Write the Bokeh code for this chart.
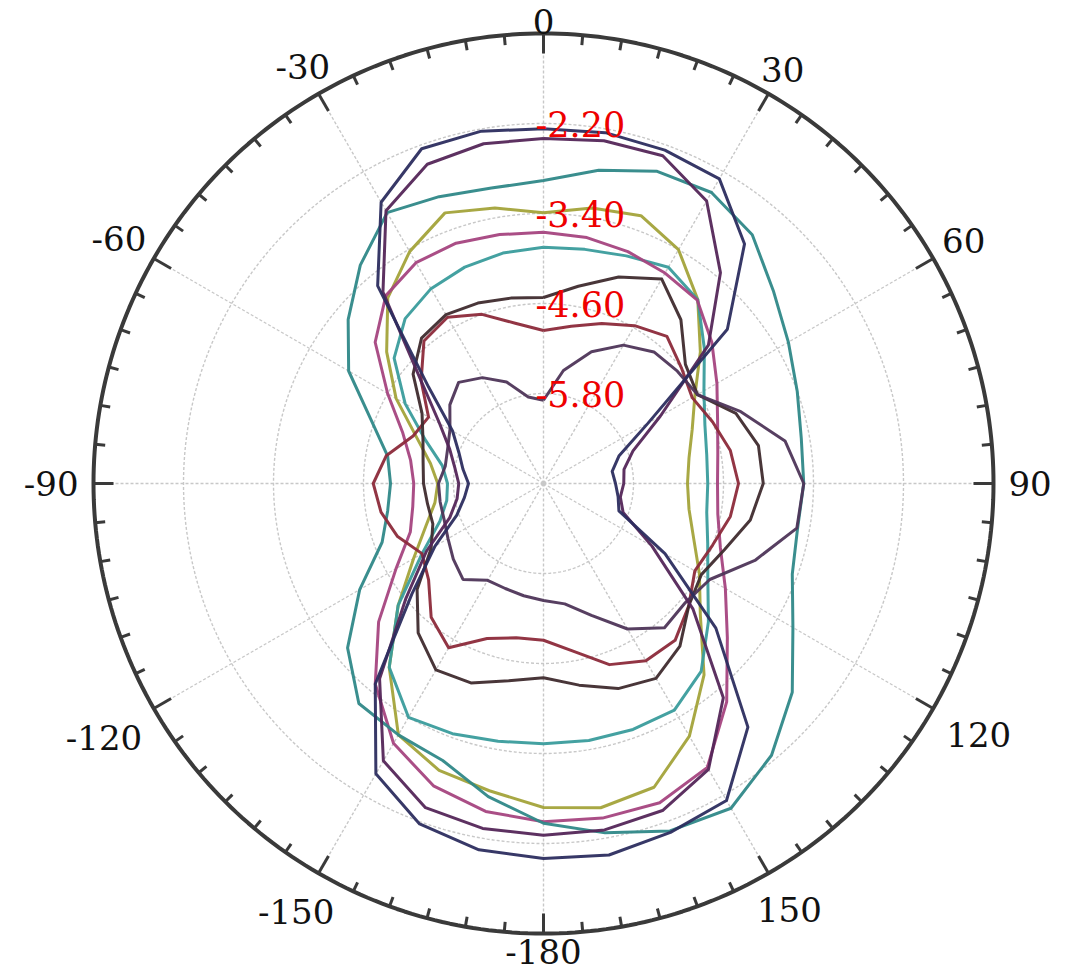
import numpy as np
from bokeh.plotting import figure
from bokeh.models import Range1d
from bokeh.core.properties import value
from bokeh.embed import file_html
from bokeh.resources import INLINE

# ---------------- data ----------------
angles_deg = [0, 10, 20, 30, 40, 50, 60, 70, 80, 90, 100, 110,
              120, 130, 140, 150, 160, 170, 180, 190, 200, 210, 220, 230,
              240, 250, 260, 270, 280, 290, 300, 310, 320, 330, 340, 350]

r_min, r_max = -7.0, -1.0
ring_values = [-5.8, -4.6, -3.4, -2.2]
ring_labels = ["-5.80", "-4.60", "-3.40", "-2.20"]

angle_ticks = [0, 30, 60, 90, 120, 150, 180, 210, 240, 270, 300, 330]
angle_tick_labels = ["0", "30", "60", "90", "120", "150", "-180",
                     "-150", "-120", "-90", "-60", "-30"]

navy = [-2.27, -2.25, -2.27, -2.31, -2.83, -3.80, -5.39, -5.93, -6.07, -6.04, -5.99, -5.93,
        -5.13, -4.00, -2.76, -2.12, -2.05, -1.97, -2.00, -2.04, -2.17, -2.53, -3.51, -4.71,
        -5.33, -5.77, -5.93, -6.00, -5.91, -5.80, -5.60, -5.00, -3.56, -2.67, -2.25, -2.23]
plum = [-2.40, -2.36, -2.35, -2.65, -3.33, -4.13, -5.20, -5.73, -5.91, -5.93, -5.96, -5.87,
        -5.33, -4.40, -3.27, -2.60, -2.36, -2.31, -2.31, -2.33, -2.40, -2.73, -3.60, -4.60,
        -5.20, -5.67, -5.83, -5.87, -5.80, -5.67, -5.40, -4.87, -3.67, -2.80, -2.47, -2.40]
teal_outer = [-2.96, -2.76, -2.57, -2.52, -2.67, -3.00, -3.23, -3.40, -3.51, -3.53, -3.56, -3.47,
              -3.16, -2.67, -2.27, -2.00, -2.07, -2.27, -2.47, -2.76, -3.07, -3.13, -3.17, -3.59,
              -4.17, -4.71, -4.89, -4.96, -4.89, -4.56, -4.00, -3.60, -3.20, -2.83, -2.93, -3.00]
olive = [-3.39, -3.27, -3.20, -3.40, -3.80, -4.27, -4.67, -4.89, -5.03, -5.08, -5.03, -4.87,
         -4.60, -4.27, -3.67, -3.11, -2.69, -2.61, -2.68, -2.84, -2.93, -3.13, -3.80, -4.47,
         -5.00, -5.33, -5.53, -5.59, -5.47, -5.20, -4.73, -4.27, -3.77, -3.43, -3.16, -3.27]
magenta = [-3.65, -3.67, -3.71, -3.76, -3.81, -4.07, -4.33, -4.53, -4.64, -4.68, -4.64, -4.49,
           -4.20, -3.80, -3.20, -2.63, -2.47, -2.47, -2.49, -2.56, -2.71, -3.00, -3.51, -4.13,
           -4.73, -5.11, -5.23, -5.27, -5.20, -5.00, -4.60, -4.07, -3.73, -3.60, -3.59, -3.63]
teal_inner = [-3.85, -3.83, -3.77, -3.67, -3.80, -4.20, -4.53, -4.71, -4.79, -4.81, -4.79, -4.67,
              -4.47, -4.13, -3.73, -3.51, -3.51, -3.52, -3.53, -3.51, -3.45, -3.40, -3.80, -4.47,
              -5.13, -5.53, -5.69, -5.72, -5.63, -5.33, -4.87, -4.40, -4.13, -4.00, -3.93, -3.88]
dark_plum = [-5.89, -5.47, -5.13, -4.87, -4.71, -4.67, -4.63, -4.20, -3.73, -3.53, -3.57, -4.00,
             -4.44, -4.53, -4.49, -4.76, -5.13, -5.37, -5.44, -5.48, -5.51, -5.51, -5.33, -5.43,
             -5.53, -5.59, -5.60, -5.60, -5.67, -5.64, -5.56, -5.37, -5.24, -5.37, -5.56, -5.83]
brown = [-4.52, -4.33, -4.07, -3.85, -4.15, -4.53, -4.63, -4.27, -4.09, -4.07, -4.20, -4.43,
         -4.57, -4.47, -4.17, -4.00, -4.09, -4.27, -4.41, -4.33, -4.17, -4.13, -4.40, -4.80,
         -5.27, -5.43, -5.43, -5.40, -5.37, -5.29, -5.13, -4.73, -4.47, -4.40, -4.44, -4.49]
dark_red = [-4.96, -4.87, -4.73, -4.57, -4.44, -4.60, -4.71, -4.60, -4.47, -4.40, -4.47, -4.60,
            -4.67, -4.47, -4.27, -4.27, -4.43, -4.73, -4.91, -4.91, -4.80, -4.47, -4.67, -5.00,
            -5.13, -4.93, -4.80, -4.73, -4.87, -5.15, -5.23, -4.87, -4.52, -4.44, -4.60, -4.83]

series = [
    (olive, "#a3a33a"),
    (teal_inner, "#3a9c9c"),
    (magenta, "#a5457f"),
    (teal_outer, "#2f8888"),
    (dark_red, "#8c2a3a"),
    (brown, "#3f2b2e"),
    (dark_plum, "#4e3558"),
    (plum, "#542659"),
    (navy, "#2c2d5f"),
]

# ---------------- geometry ----------------
W, H = 1072, 974
PX = 75.0                      # pixels per dB
cx_px, cy_px = 543.0, 483.0    # polar centre inside the canvas
R_OUT = r_max - r_min
Y_TOP = cy_px / PX
Y_BOT = -(H - cy_px) / PX

p = figure(width=W, height=H,
           x_range=Range1d(-cx_px / PX, (W - cx_px) / PX),
           y_range=Range1d(Y_BOT, Y_TOP),
           output_backend="svg", toolbar_location=None, min_border=0,
           x_axis_location=None, y_axis_location=None,
           outline_line_color=None, background_fill_color="white",
           border_fill_color="white")
p.xgrid.visible = False
p.ygrid.visible = False


def polar_xy(theta_deg, rad):
    t = np.radians(np.asarray(theta_deg, dtype=float))
    rad = np.asarray(rad, dtype=float)
    return rad * np.sin(t), rad * np.cos(t)


full = np.arange(0, 361, 1)

# grid rings
for rv in ring_values:
    xs, ys = polar_xy(full, np.full(full.shape, rv - r_min))
    p.line(xs, ys, line_color="#c8c8c8", line_width=1.4, line_dash="3 2")

# spokes
sp_t = np.arange(0, 360, 30)
sx, sy = polar_xy(sp_t, np.full(sp_t.shape, R_OUT))
p.segment(x0=np.zeros_like(sx), y0=np.zeros_like(sy), x1=sx, y1=sy,
          line_color="#c8c8c8", line_width=1.4, line_dash="3 2")

# curves
for vals, col in series:
    t = angles_deg + [angles_deg[0]]
    v = vals + [vals[0]]
    xs, ys = polar_xy(t, np.array(v) - r_min)
    p.line(xs, ys, line_color=col, line_width=3, line_alpha=0.95,
           line_join="round")

# outer frame
xs, ys = polar_xy(full, np.full(full.shape, R_OUT))
p.line(xs, ys, line_color="#3a3a3a", line_width=4)

# ticks
tk = np.arange(0, 360, 5)
lens = np.where(tk % 30 == 0, 20.0, 10.0) / PX
ox, oy = polar_xy(tk, np.full(tk.shape, R_OUT))
ix, iy = polar_xy(tk, R_OUT - lens)
p.segment(x0=ox, y0=oy, x1=ix, y1=iy, line_color="#3a3a3a", line_width=3)

# angle labels
FS = 34
EDGE = 21 / PX     # keep label boxes inside the canvas
for a, lab in zip(angle_ticks, angle_tick_labels):
    wpx = sum(11.5 if ch == "-" else 21.6 for ch in lab)
    t = np.radians(a)
    s, c = abs(np.sin(t)), np.cos(t)
    rpx = 465 + 0.5 * wpx * s + 3 * abs(c)
    if c < -0.1 and s > 0.1:
        rpx += 8
    lx, ly = polar_xy([a], [rpx / PX])
    ly = np.clip(ly, Y_BOT + EDGE, Y_TOP - EDGE)
    p.text(x=lx, y=ly, text=[lab], text_font=value("DejaVu Serif"),
           text_font_size=f"{FS}px", text_color="#111111",
           text_align="center", text_baseline="middle")

# radial labels
p.text(x=[-8 / PX] * len(ring_values), y=[rv - r_min for rv in ring_values],
       text=ring_labels, text_font=value("DejaVu Serif"),
       text_font_size="35px", text_color="#ee0000",
       text_align="left", text_baseline="middle")

open("out.html", "w").write(file_html(p, INLINE))
